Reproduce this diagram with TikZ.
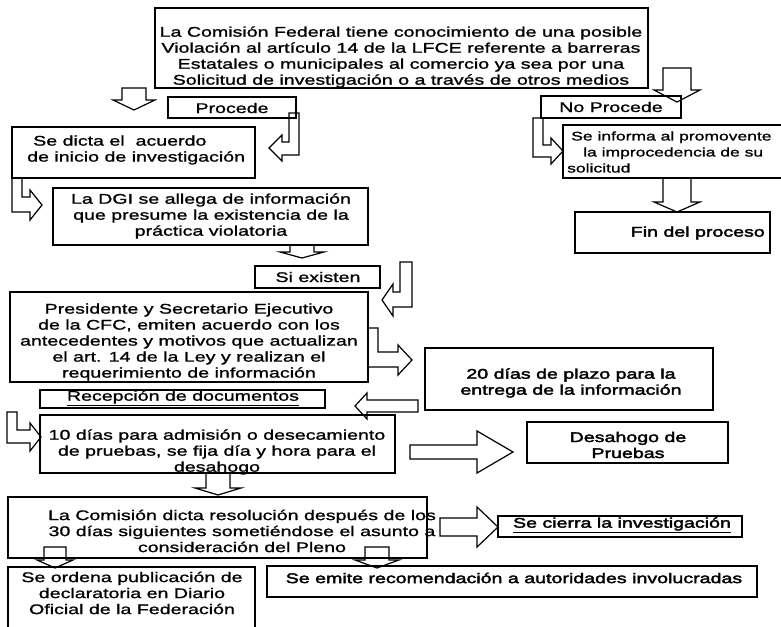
\documentclass[tikz,border=0pt]{standalone}
\usepackage{fontspec}
\setmainfont{Liberation Sans}[FakeStretch=1.4,FakeBold=1.2]
\newfontfamily\heavy{Liberation Sans}[FakeStretch=1.4,FakeBold=2.6]
\newcommand\bx[5]{\node[box,anchor=north west,minimum width={(#4-#2)*1pt},minimum height={(#5-#3)*1pt}] (#1) at (#2,#3) {};}
\newcommand\arrD[6]{\draw[blk] (#1-#5,#2) -- (#1+#5,#2) -- (#1+#5,#3) -- (#1+#6,#3) -- (#1,#4) -- (#1-#6,#3) -- (#1-#5,#3) -- cycle;}
\newcommand\arrR[6]{\draw[blk] (#2,#1-#5) -- (#3,#1-#5) -- (#3,#1-#6) -- (#4,#1) -- (#3,#1+#6) -- (#3,#1+#5) -- (#2,#1+#5) -- cycle;}
\begin{document}
\begin{tikzpicture}[x=1pt,y=-1pt,
  box/.style={draw,line width=1.2pt,inner sep=0pt,outer sep=0pt},
  txt/.style={align=center,inner sep=0pt,font=\fontsize{14}{16}\selectfont},
  txtl/.style={align=left,inner sep=0pt,font=\fontsize{14}{16}\selectfont},
  hv/.style={font=\fontsize{14}{16}\selectfont\heavy},
  blk/.style={draw,line width=1.2pt,line join=miter}]
\useasboundingbox (0,0) rectangle (781,626);
% boxes
\bx{top}{155}{8}{648}{88}
\bx{proc}{168}{97}{296}{118}
\bx{noproc}{541}{96}{681}{118}
\bx{dicta}{12}{127}{255}{178}
\bx{informa}{563}{125}{790}{178}
\bx{dgi}{53}{188}{368}{245}
\bx{fin}{575}{212}{770}{253}
\bx{siex}{255}{266}{380}{288}
\bx{pres}{10}{292}{368}{382}
\bx{veinte}{425}{348}{713}{410}
\bx{recep}{40}{390}{325}{408}
\bx{diez}{40}{415}{395}{473}
\bx{desah}{527}{422}{728}{463}
\bx{comi}{8}{497}{427}{558}
\bx{cierra}{498}{516}{742}{537}
\bx{ordena}{8}{567}{255}{640}
\bx{emite}{267}{566}{757}{597}
% texts
\node[txt] (topT) at (401,57) {La Comisión Federal tiene conocimiento de una posible\\Violación al artículo 14 de la LFCE referente a barreras\\Estatales o municipales al comercio ya sea por una\\Solicitud de investigación o a través de otros medios};
\node[txt] (procT) at (232,108) {Procede};
\node[txt] (noprocT) at (611,107) {No Procede};
\node[txtl,anchor=west,font=\fontsize{12.5}{16}\selectfont] (informaT) at (567,152) {\hspace{4pt}Se informa al promovente\\\hspace{16pt}la improcedencia de su\\solicitud};
\node[txtl,anchor=west] (dictaT) at (27,150) {\hspace{6pt}Se dicta el\ \ acuerdo\\de inicio de investigación};
\node[txt] (dgiT) at (211,216) {La DGI se allega de información\\que presume la existencia de la\\práctica violatoria};
\node[txt,hv,anchor=east] (finT) at (765,233) {Fin del proceso};
\node[txt] (siexT) at (318,277) {Si existen};
\node[txt] (presT) at (189,342) {Presidente y Secretario Ejecutivo\\de la CFC, emiten acuerdo con los\\antecedentes y motivos que actualizan\\el art. 14 de la Ley y realizan el\\requerimiento de información};
\node[txt,hv] (veinteT) at (571,383) {20 días de plazo para la\\entrega de la información};
\node[txt] (recepT) at (183,398) {\underline{Recepción de documentos}};
\node[txt] (diezT) at (217,452) {10 días para admisión o desecamiento\\de pruebas, se fija día y hora para el\\desahogo};
\node[txt,hv] (desahT) at (628,445) {Desahogo de\\Pruebas};
\node[txt] (comiT) at (242,531) {La Comisión dicta resolución después de los\\30 días siguientes sometiéndose el asunto a\\consideración del Pleno};
\node[txt,hv] (cierraT) at (622,525) {\underline{Se cierra la investigación}};
\node[txt] (ordenaT) at (132,593) {Se ordena publicación de\\declaratoria en Diario\\Oficial de la Federación};
\node[txt,hv] (emiteT) at (514,578) {Se emite recomendación a autoridades involucradas};
% straight block arrows
\arrD{134}{88}{100}{110}{12}{21}
\arrD{677}{68}{90}{102}{14}{23}
\arrD{677}{178}{202}{212}{14}{23}
\arrD{302}{245}{252}{258}{12}{22}
\arrD{218}{473}{488}{495}{12}{23}
\arrD{55}{547}{560}{568}{11}{18}
\arrD{377}{547}{560}{568}{12}{22}
\arrR{452}{410}{477}{513}{7}{21}
\arrR{527}{440}{477}{498}{9}{20}
\draw[blk] (418,400) -- (367,400) -- (367,393) -- (355,406) -- (367,419) -- (367,412) -- (418,412) -- cycle;
% bent arrows
\draw[blk] (289,113) -- (299,113) -- (299,155) -- (282,155) -- (282,161) -- (269,148) -- (282,135) -- (282,142) -- (289,142) -- cycle;
\draw[blk] (12,178) -- (22,178) -- (22,197) -- (30,197) -- (30,190) -- (42,205) -- (30,220) -- (30,212) -- (12,212) -- cycle;
\draw[blk] (400,262) -- (412,262) -- (412,307) -- (393,307) -- (393,316) -- (382,300) -- (393,284) -- (393,292) -- (400,292) -- cycle;
\draw[blk] (368,328) -- (378,328) -- (378,352) -- (398,352) -- (398,345) -- (412,360) -- (398,375) -- (398,367) -- (368,367);
\draw[blk] (7,412) -- (17,412) -- (17,430) -- (30,430) -- (30,423) -- (41,437) -- (30,451) -- (30,443) -- (7,443) -- cycle;
\draw[blk] (533,118) -- (543,118) -- (543,145) -- (551,145) -- (551,138) -- (563,151) -- (551,164) -- (551,157) -- (533,157) -- cycle;
\end{tikzpicture}
\end{document}
